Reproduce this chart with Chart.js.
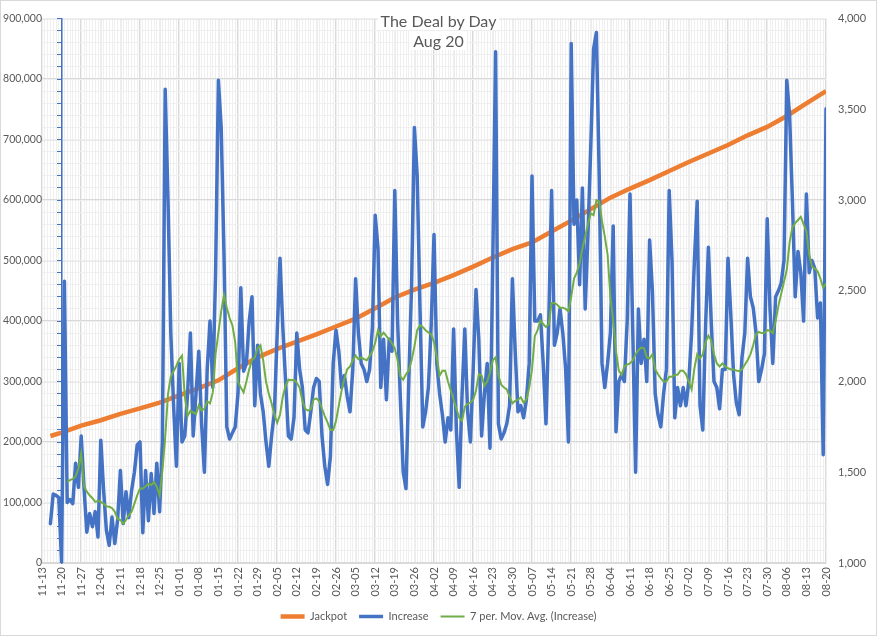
<!DOCTYPE html>
<html><head><meta charset="utf-8">
<script src="https://cdn.jsdelivr.net/npm/chart.js@4.4.1/dist/chart.umd.min.js"></script>
<style>
html,body{margin:0;padding:0;background:#fff;}
#wrap{position:relative;width:877px;height:636px;overflow:hidden;}
#frame{position:absolute;left:0;top:0;width:877px;height:636px;box-sizing:border-box;border:1px solid #d9d9d9;pointer-events:none;}
#title{position:absolute;left:0;top:11px;width:877px;text-align:center;pointer-events:none;font-family:Lato,'Liberation Sans',sans-serif;color:#595959;font-size:16px;line-height:20px;}
#title span{background:#fff;padding:0 3px;}
</style></head><body>
<div id="wrap"><canvas id="c" width="877" height="636"></canvas>
<div id="title"><span>The Deal by Day</span><br><span>Aug 20</span></div>
<div id="frame"></div></div>
<script>
const tickLabels = ['11-13','11-20','11-27','12-04','12-11','12-18','12-25','01-01','01-08','01-15','01-22','01-29','02-05','02-12','02-19','02-26','03-05','03-12','03-19','03-26','04-02','04-09','04-16','04-23','04-30','05-07','05-14','05-21','05-28','06-04','06-11','06-18','06-25','07-02','07-09','07-16','07-23','07-30','08-06','08-13','08-20'];

// day numbers count from 11-13 (day 0)
const increaseStartDay = 3;
const increase = [
1217,1380,1373,1360,1000,2553,1333,1350,1327,1550,
1417,1700,1417,1170,1273,1200,1283,1143,1677,1400,
1180,1097,1253,1107,1237,1510,1217,1393,1250,1400,
1500,1650,1667,1167,1510,1233,1493,1273,1550,1283,
1667,3610,3000,2267,1867,1533,2100,1667,1700,1933,
2267,1700,1933,2167,1767,1500,2067,2333,1967,2600,
3660,3400,2700,1750,1683,1717,1750,
1933,2517,2057,2100,2333,2467,1867,2200,1933,1833,
1667,1533,1700,1833,2267,2680,2300,2000,1700,1683,
1800,2267,2067,1967,1733,1717,1833,1967,2017,2000,
1700,1533,1433,1587,
2100,2283,2167,1967,2033,1917,1833,2067,2567,2267,
2100,2067,2000,2067,2300,2917,2733,1967,2233,1900,
2233,2167,3053,2333,1900,1500,1410,2000,2533,3400,
3133,2400,1750,1833,1967,
2310,2810,2100,1933,1817,1667,1800,1733,2290,1733,
1417,1920,2290,1833,1667,2067,2507,2233,1700,1933,
2100,1633,2667,3817,1767,1683,1717,1767,1867,2567,
2167,1833,1867,1800,
1900,2100,3133,2333,2333,2367,2100,1767,2333,3053,
2200,2267,2400,2267,2073,1667,3863,2867,3000,2533,
3067,2400,2817,3300,3833,3923,3133,2100,1967,2100,
2270,2857,1723,2000,
2037,2000,2333,3033,2267,1500,2400,2100,2233,2000,
2780,2500,1933,1817,1750,1933,2067,3053,2667,1800,
1967,1867,1967,1867,2000,2267,2667,2993,1867,1733,
2310,2740,2333,2000,1967,
1850,2067,2067,2680,2367,2037,1880,1817,2133,2267,
2680,2467,2407,2270,2000,2067,2153,2897,2400,2100,
2467,2500,2543,2667,3660,3467,3000,2467,2717,2600,
2333,3033,2600,2667,2623,2350,2433,1597,3503
];

const movAvgStartDay = 9;
const movAvg = [
1447,1457,1463,1477,1520,1603,1423,1393,1373,1357,
1337,1343,1337,1327,1313,1310,1303,1283,1243,1237,
1217,1237,1263,1283,1327,1373,1410,1410,1423,1437,
1430,1447,1420,1373,
1507,1693,1930,2027,2057,2087,2123,2143,1920,1810,
1840,1830,1820,1870,1840,1850,1890,1880,1940,2153,
2270,2387,2477,2407,2350,2310,2217,
1997,1967,1940,2000,2067,2117,2133,2183,2200,2117,
2000,1933,1880,1817,1773,1817,1917,1977,2010,2007,
2010,1993,1967,1893,1850,1840,1847,1900,1907,1893,
1850,1810,1773,1733,
1733,1783,1867,1950,2017,2067,2083,2117,2143,2123,
2133,2123,2117,2140,2167,2213,2283,2250,2270,2250,
2233,2210,2183,2117,2027,2010,2040,2060,2117,2193,
2283,2310,2300,2283,2270,
2260,2217,2133,2033,2060,2060,2000,1950,1900,1850,
1800,1783,1860,1877,1883,1900,1950,2040,2033,1977,
2000,2050,2117,2133,2033,1983,1967,1957,1917,1880,
1893,1900,1913,1883,
1900,1967,2067,2250,2283,2337,2317,2300,2317,2433,
2433,2423,2407,2407,2400,2387,2467,2567,2600,2650,
2733,2800,2867,2927,2917,3000,2993,2883,2800,2700,
2467,2333,2167,2060,
2037,2083,2093,2100,2117,2150,2173,2187,2183,2133,
2127,2150,2067,2040,2017,2000,2000,2027,2027,2037,
2037,2060,2060,2040,2000,1957,2073,2150,2127,2150,
2217,2253,2227,2150,2100,
2083,2100,2083,2073,2067,2067,2060,2057,2067,2093,
2117,2150,2200,2260,2273,2267,2267,2283,2280,2267,
2333,2417,2483,2550,2617,2767,2850,2873,2890,2907,
2867,2827,2700,2633,2623,2607,2567,2517,2540
];

const jackpotDays = [3,7,14,21,28,35,42,49,56,63,70,77,84,91,98,105,112,119,126,133,140,147,154,161,168,175,182,189,196,203,210,217,224,231,238,245,252,259,266,273,280];
const jackpot = [210000,215500,227000,236000,246500,255500,265000,277000,289000,302000,322000,340000,354000,366000,378000,391000,404000,421000,439000,452000,463000,476000,490000,505000,519000,530000,548000,566000,585000,604000,619000,633000,648000,663000,677000,691000,707000,721000,739000,760000,780000];

const FONT = "Lato, 'Liberation Sans', sans-serif";
const GREY = '#595959';
const lastDay = (tickLabels.length - 1) * 7;

new Chart(document.getElementById('c'), {
  type: 'line',
  data: {
    datasets: [
      { label: 'Jackpot', data: jackpot.map((v, i) => ({ x: jackpotDays[i], y: v })),
        yAxisID: 'y', borderColor: '#ED7D31', backgroundColor: '#ED7D31', borderWidth: 4.5,
        pointRadius: 0, tension: 0, order: 3 },
      { label: 'Increase', data: increase.map((v, i) => ({ x: increaseStartDay + i, y: v })),
        yAxisID: 'y1', borderColor: '#4472C4', backgroundColor: '#4472C4', borderWidth: 3.5,
        borderJoinStyle: 'round', borderCapStyle: 'round', pointRadius: 0, tension: 0, order: 2 },
      { label: '7 per. Mov. Avg. (Increase)', data: movAvg.map((v, i) => ({ x: movAvgStartDay + i, y: v })),
        yAxisID: 'y1', borderColor: '#70AD47', backgroundColor: '#70AD47', borderWidth: 2,
        pointRadius: 0, tension: 0, order: 1 }
    ]
  },
  options: {
    responsive: false, animation: false,
    layout: { padding: { top: 16, left: 0, right: 0, bottom: 4 } },
    scales: {
      x: { type: 'linear', position: 'bottom', min: 0, max: lastDay,
        ticks: { stepSize: 7, autoSkip: false, maxRotation: 90, minRotation: 90, padding: 4,
          color: GREY, font: { family: FONT, size: 11 },
          callback: (v) => tickLabels[Math.round(v / 7)] },
        grid: { color: '#D9D9D9', lineWidth: 1.5, drawTicks: false },
        border: { display: true, color: '#D9D9D9' },
        afterFit: (s) => { s.height = 36; } },
      xMinor: { type: 'linear', position: 'bottom', min: 0, max: lastDay, z: -1,
        ticks: { display: false, stepSize: 1, autoSkip: false },
        grid: { color: '#EFEFEF', lineWidth: 1, drawTicks: false },
        border: { display: false },
        afterFit: (s) => { s.height = 0; } },
      y: { type: 'linear', position: 'left', min: 0, max: 900000,
        ticks: { stepSize: 100000, padding: 0, color: GREY, font: { family: FONT, size: 10.5 } },
        grid: { color: '#D9D9D9', lineWidth: 1.5, drawTicks: false },
        border: { display: false },
        afterFit: (s) => { s.width = 42; } },
      yMinor: { type: 'linear', position: 'left', min: 0, max: 900000, z: -1,
        ticks: { display: false, stepSize: 20000 },
        grid: { color: '#EFEFEF', lineWidth: 1, drawTicks: false },
        border: { display: false },
        afterFit: (s) => { s.width = 0; } },
      y1: { type: 'linear', position: 'right', min: 1000, max: 4000,
        ticks: { stepSize: 500, padding: 12, color: GREY, font: { family: FONT, size: 11 } },
        grid: { drawOnChartArea: false, drawTicks: false },
        border: { display: false },
        afterFit: (s) => { s.width = 51; } },
      yBlue: { type: 'linear', position: { x: 7 }, min: 0, max: 900000,
        ticks: { display: false, stepSize: 20000 },
        grid: { drawOnChartArea: false, drawTicks: true, tickLength: 4, tickColor: '#4472C4', tickWidth: 1 },
        border: { display: true, color: '#4472C4', width: 1.5 } }
    },
    plugins: {
      legend: { position: 'bottom',
        labels: { usePointStyle: true, pointStyle: 'line', pointStyleWidth: 24, padding: 12,
          color: GREY, font: { family: FONT, size: 11 },
          sort: (a, b) => a.datasetIndex - b.datasetIndex } },
      title: { display: false },
      tooltip: { enabled: false }
    }
  }
});
</script>
</body></html>
